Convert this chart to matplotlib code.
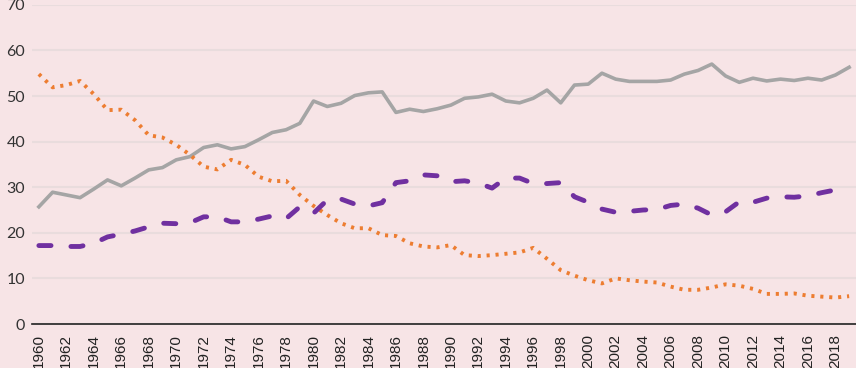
import matplotlib.pyplot as plt
import numpy as np

years = list(range(1960, 2020))

gray_series = [25.7, 28.9, 28.3, 27.7, 29.6, 31.6, 30.3, 32.0, 33.8, 34.3,
               36.0, 36.7, 38.7, 39.3, 38.4, 38.9, 40.4, 42.0, 42.6, 44.0,
               48.9, 47.7, 48.4, 50.1, 50.7, 50.9, 46.4, 47.1, 46.6, 47.2,
               48.0, 49.5, 49.8, 50.4, 48.9, 48.5, 49.5, 51.3, 48.5, 52.4,
               52.6, 55.0, 53.7, 53.2, 53.2, 53.2, 53.5, 54.8, 55.6, 57.0,
               54.4, 53.0, 53.9, 53.3, 53.7, 53.4, 53.9, 53.5, 54.6, 56.3]

orange_series = [54.8, 51.9, 52.4, 53.3, 50.4, 46.9, 47.0, 44.7, 41.4, 40.9,
                 39.3, 37.1, 34.5, 33.9, 36.0, 34.9, 32.3, 31.3, 31.4, 28.3,
                 25.9, 23.9, 22.1, 21.0, 21.0, 19.5, 19.3, 17.7, 17.0, 16.8,
                 17.3, 15.1, 14.9, 15.1, 15.4, 15.7, 16.7, 14.3, 11.8, 10.6,
                 9.6, 8.9, 10.0, 9.6, 9.3, 9.1, 8.2, 7.5, 7.5, 8.0,
                 8.7, 8.4, 7.7, 6.6, 6.6, 6.7, 6.2, 6.0, 5.8, 6.1]

purple_series = [17.2, 17.2, 17.0, 17.0, 17.7, 19.1, 19.7, 20.4, 21.3, 22.1,
                 22.0, 22.2, 23.5, 23.5, 22.4, 22.4, 23.0, 23.7, 23.1, 25.7,
                 24.3, 27.2, 27.4, 26.3, 25.9, 26.6, 31.0, 31.4, 32.7, 32.5,
                 31.2, 31.4, 30.9, 29.8, 32.0, 32.0, 30.8, 30.8, 31.0, 27.9,
                 26.7, 25.2, 24.5, 24.7, 25.0, 25.1, 26.0, 26.3, 25.4, 23.9,
                 24.6, 26.8, 26.7, 27.6, 27.9, 27.8, 28.1, 28.8, 29.4, 28.2]

y_ticks = [0, 10, 20, 30, 40, 50, 60, 70]

bg = "#f7e4e6"

fig = plt.figure(figsize=(8.56, 3.68), dpi=100, facecolor=bg)
ax = fig.add_axes([32 / 856, 1 - 324 / 368, 824 / 856, 319.2 / 368])
ax.set_facecolor(bg)

x = np.arange(len(years))
ax.plot(x, gray_series, color="#a5a5a5", lw=2.6, solid_joinstyle="round")
ax.plot(x, orange_series, color="#ed7d31", lw=2.8, linestyle=(0, (0.8, 1.5)),
        dash_capstyle="butt")
ax.plot(x, purple_series, color="#7030a0", lw=3.5, linestyle=(0, (2.5, 4.1)),
        dash_capstyle="round")

ax.set_xlim(-0.5, len(years) - 0.5)
ax.set_ylim(0, 70)
ax.set_yticks(y_ticks)
ax.set_yticklabels([str(v) for v in y_ticks], fontsize=11.5, family="Lato", color="#333333")
ax.yaxis.grid(True, color="#e9dcdd", lw=1.5)
ax.set_axisbelow(True)

ax.set_xticks(x[::2])
ax.set_xticklabels([str(y) for y in years[::2]], rotation=90, fontsize=11,
                   family="Liberation Sans", color="#222222")
ax.tick_params(axis="x", length=0, pad=7)
ax.tick_params(axis="y", length=0, pad=5)

for side in ["top", "right", "left"]:
    ax.spines[side].set_visible(False)
ax.spines["bottom"].set_color("#222222")
ax.spines["bottom"].set_linewidth(1.2)

fig.savefig("out.png", dpi=100, facecolor=bg)
